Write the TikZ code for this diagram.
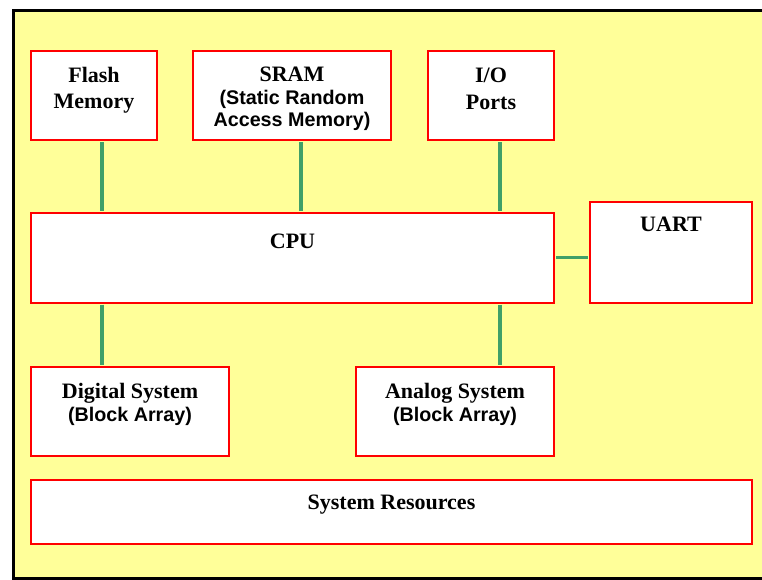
\documentclass[tikz,border=0pt]{standalone}
\usepackage{fontspec}
\setmainfont{Liberation Serif}
\newfontfamily\arialfont{Liberation Sans}
\usetikzlibrary{positioning}
\definecolor{bgyellow}{RGB}{255,255,153}
\definecolor{linkgreen}{RGB}{64,160,104}
\def\u{0.75pt}
\newcommand{\subtxt}[1]{{\arialfont\fontsize{14.8}{17}\selectfont\bfseries #1}}

\begin{document}
\begin{tikzpicture}[x=\u,y=-\u,
  blk/.style={draw=red,fill=white,line width=1.5pt,inner sep=0pt},
  txt/.style={inner sep=0pt,align=center,font=\fontsize{16.5}{20}\selectfont\bfseries},
  link/.style={draw=linkgreen,line width=2.6pt,shorten <=0.75pt,shorten >=0.75pt}]
\path[use as bounding box,clip] (0,0) rectangle (762,579);
\fill[white] (0,0) rectangle (762,579);
\draw[line width=2.25pt,fill=bgyellow] (13,10.5) rectangle (790,578.5);

\node[blk,minimum width=126*\u,minimum height=89*\u] (flash) at (94,95.5) {};
\node[blk,minimum width=198*\u,minimum height=89*\u] (sram) at (292,95.5) {};
\node[blk,minimum width=126*\u,minimum height=89*\u] (io) at (491,95.5) {};
\node[blk,minimum width=523*\u,minimum height=89.5*\u] (cpu) at (292.5,257.75) {};
\node[blk,minimum width=162*\u,minimum height=100.5*\u] (uart) at (671,252.25) {};
\node[blk,minimum width=198*\u,minimum height=89*\u] (digital) at (130,411.5) {};
\node[blk,minimum width=198*\u,minimum height=89*\u] (analog) at (455,411.5) {};
\node[blk,minimum width=721*\u,minimum height=64*\u] (sysres) at (391.5,512) {};

\node[txt,below=12.5pt of flash.north] (flashtxt) {Flash\\Memory};
\node[txt,below=12.5pt of sram.north] (sramtxt) {SRAM\\[-3pt]\subtxt{(Static Random}\\[-3pt]\subtxt{Access Memory)}};
\node[txt,below=13.5pt of io.north] (iotxt) {I/O\\Ports};
\node[txt,below=16.5pt of cpu.north] (cputxt) {CPU};
\node[txt,below=11.8pt of uart.north] (uarttxt) {UART};
\node[txt,below=13pt of digital.north] (digitaltxt) {Digital System\\[-3pt]\subtxt{(Block Array)}};
\node[txt,below=13pt of analog.north] (analogtxt) {Analog System\\[-3pt]\subtxt{(Block Array)}};
\node[txt,below=11.8pt of sysres.north] (sysrestxt) {System Resources};

\coordinate (colA) at (102,0);
\coordinate (colB) at (301,0);
\coordinate (colC) at (500,0);
\draw[link] (flash.south -| colA) -- (cpu.north -| colA);
\draw[link] (sram.south -| colB) -- (cpu.north -| colB);
\draw[link] (io.south -| colC) -- (cpu.north -| colC);
\draw[link] (cpu.south -| colA) -- (digital.north -| colA);
\draw[link] (cpu.south -| colC) -- (analog.north -| colC);
\draw[link] (cpu.east) -- (uart.west |- cpu.east);
\end{tikzpicture}
\end{document}
